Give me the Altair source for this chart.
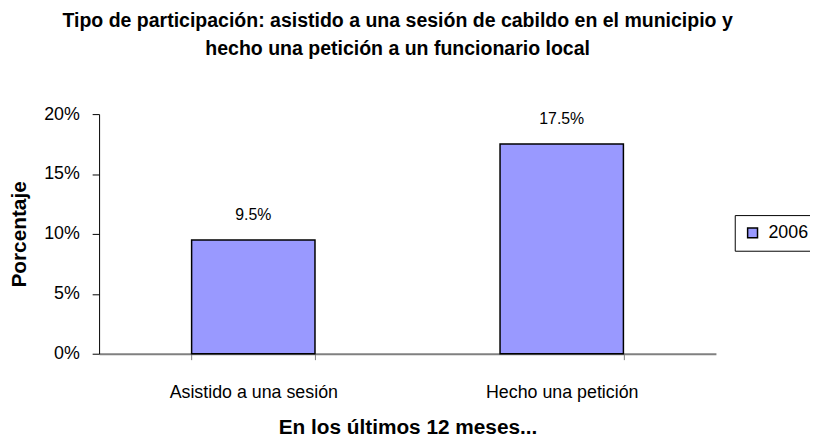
import altair as alt
import pandas as pd

categories = ["Asistido a una sesión", "Hecho una petición"]
values = [0.095, 0.175]
series = ["2006", "2006"]
y_ticks = [0, 0.05, 0.10, 0.15, 0.20]

title_lines = [
    "Tipo de participación: asistido a una sesión de cabildo en el municipio y",
    "hecho una petición a un funcionario local",
]

df = pd.DataFrame({"cat": categories, "val": values, "serie": series})

NARROW = "Liberation Sans Narrow, Arial Narrow, Liberation Sans, Arial, sans-serif"
REG = "Liberation Sans, Arial, sans-serif"

x = alt.X(
    "cat:N",
    sort=categories,
    scale=alt.Scale(paddingInner=0.6, paddingOuter=0.3),
    axis=alt.Axis(
        title="En los últimos 12 meses...",
        titleFont=REG,
        titleFontSize=21,
        titleFontWeight="bold",
        titleColor="black",
        titlePadding=16,
        labelFont=NARROW,
        labelFontSize=18,
        labelColor="black",
        labelAngle=0,
        labelPadding=24,
        tickBand="extent",
        tickSize=6,
        tickColor="#808080",
        domainColor="#808080",
        domainWidth=2,
        grid=False,
    ),
)

y = alt.Y(
    "val:Q",
    scale=alt.Scale(domain=[0, 0.2], nice=False),
    axis=alt.Axis(
        title="Porcentaje",
        titleFont=REG,
        titleFontSize=21,
        titleFontWeight="bold",
        titleColor="black",
        titlePadding=14,
        values=y_ticks,
        format=".0%",
        labelFont=NARROW,
        labelFontSize=18,
        labelColor="black",
        labelPadding=13,
        tickSize=7,
        tickColor="black",
        domainColor="black",
        grid=False,
    ),
)

bars = alt.Chart(df).mark_bar(stroke="black", strokeWidth=1.5).encode(
    x=x,
    y=y,
    color=alt.Color(
        "serie:N",
        scale=alt.Scale(range=["#9999FF"]),
        legend=alt.Legend(
            title=None,
            orient="none",
            legendX=642,
            legendY=102,
            symbolType="square",
            symbolSize=100,
            symbolStrokeColor="black",
            symbolStrokeWidth=1.5,
            labelFont=NARROW,
            labelFontSize=18,
            labelColor="black",
            labelOffset=7,
            strokeColor="black",
            fillColor="white",
            padding=9,
            cornerRadius=0,
        ),
    ),
)

labels = alt.Chart(df).mark_text(
    baseline="middle", dy=-25, font=NARROW, fontSize=16, color="black"
).encode(
    x=alt.X("cat:N", sort=categories),
    y="val:Q",
    text=alt.Text("val:Q", format=".1%"),
)

chart = (
    alt.layer(bars, labels)
    .properties(
        width=623,
        height=242,
        background="white",
        title=alt.TitleParams(
            text=title_lines,
            font=NARROW,
            fontSize=19.7,
            fontWeight="bold",
            color="black",
            anchor="middle",
            dx=-10,
            offset=47,
            lineHeight=28,
        ),
        autosize=alt.AutoSizeParams(type="none"),
        padding={"left": 92, "top": 105, "right": 95, "bottom": 86},
    )
    .configure_view(stroke="transparent", strokeWidth=0)
)

chart.save("out.html", embed_options={"renderer": "svg", "actions": False})
